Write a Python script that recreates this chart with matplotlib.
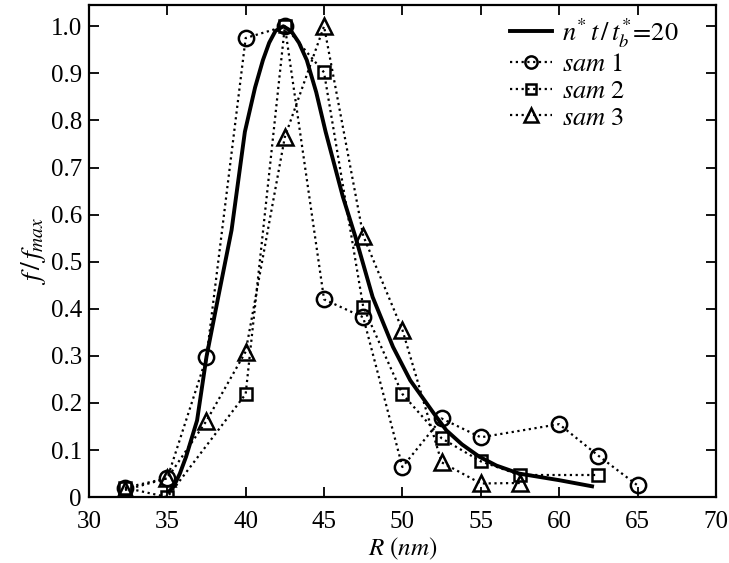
import matplotlib
matplotlib.use("Agg")
import matplotlib.pyplot as plt

plt.rcParams['font.family'] = ['Liberation Serif', 'DejaVu Serif']
plt.rcParams['mathtext.fontset'] = 'stix'

# fitted curve n* t / t_b* = 20
curve_r = [35.1, 35.4, 35.8, 36.2, 36.9, 37.5, 38.25, 39.1, 39.95, 40.6, 41.1, 41.5, 41.9, 42.4,
           42.9, 43.4, 43.9, 44.5, 45.1, 46.2, 47.0, 48.1, 49.4, 50.5, 52.0, 52.8, 53.8,
           54.9, 56.0, 57.45, 60.0, 62.1]
curve_f = [0.012, 0.022, 0.05, 0.086, 0.163, 0.298, 0.425, 0.567, 0.776, 0.87, 0.928, 0.965, 0.99, 1.0,
           0.99, 0.965, 0.928, 0.86, 0.776, 0.638, 0.553, 0.425, 0.319, 0.248, 0.178, 0.142, 0.112,
           0.086, 0.067, 0.05, 0.036, 0.023]

sam1_r = [32.3, 35, 37.5, 40, 42.5, 45, 47.5, 50, 52.5, 55, 60, 62.5, 65]
sam1_f = [0.02, 0.04, 0.297, 0.975, 1.0, 0.42, 0.382, 0.064, 0.167, 0.127, 0.155, 0.088, 0.025]

sam2_r = [32.3, 35, 40, 42.5, 45, 47.5, 50, 52.5, 55, 57.5, 62.5]
sam2_f = [0.02, 0.0, 0.219, 1.0, 0.902, 0.404, 0.219, 0.125, 0.076, 0.047, 0.047]

sam3_r = [32.3, 35, 37.5, 40, 42.5, 45, 47.5, 50, 52.5, 55, 57.5]
sam3_f = [0.015, 0.04, 0.162, 0.309, 0.765, 1.0, 0.555, 0.355, 0.074, 0.029, 0.03]

x_ticks = [30, 35, 40, 45, 50, 55, 60, 65, 70]
y_ticks = [0, 0.1, 0.2, 0.3, 0.4, 0.5, 0.6, 0.7, 0.8, 0.9, 1.0]
y_labels = ['0', '0.1', '0.2', '0.3', '0.4', '0.5', '0.6', '0.7', '0.8', '0.9', '1.0']

fig = plt.figure(figsize=(7.29, 5.63), dpi=100)
ax = fig.add_axes([0.122, 0.117, 0.860, 0.874])

ax.plot(curve_r, curve_f, '-', color='black', lw=2.8, solid_joinstyle='round',
        label=r'$n^{*}\,t\,/\,t_b^{*}\!=\!20$')
mk = dict(color='black', ls=(0, (1, 1.6)), lw=1.6, mfc='none', mec='black', mew=1.8, ms=11)
ax.plot(sam1_r, sam1_f, marker='o', label=r'$sam\ 1$', **mk)
ax.plot(sam2_r, sam2_f, marker='s', label=r'$sam\ 2$', **dict(mk, ms=9))
ax.plot(sam3_r, sam3_f, marker='^', label=r'$sam\ 3$', **dict(mk, ms=12))

ax.set_xlim(30, 70)
ax.set_ylim(0, 1.045)
ax.set_xticks(x_ticks)
ax.set_yticks(y_ticks)
ax.set_yticklabels(y_labels)
ax.tick_params(direction='in', top=True, right=True, length=7, width=1.3,
               labelsize=18)
ax.tick_params(axis='x', pad=10)
ax.tick_params(axis='y', pad=5)
for s in ax.spines.values():
    s.set_linewidth(1.6)

ax.set_xlabel(r'$R\ (nm)$', fontsize=18, labelpad=2)
ax.set_ylabel(r'$f\,/\,f_{max}$', fontsize=20, labelpad=2)

leg = ax.legend(loc='upper left', bbox_to_anchor=(0.672, 0.977), frameon=False,
                fontsize=19, handlelength=1.6, handletextpad=0.35, labelspacing=0.12,
                borderaxespad=0, borderpad=0, markerscale=0.8)

fig.savefig('out.png', dpi=100)
